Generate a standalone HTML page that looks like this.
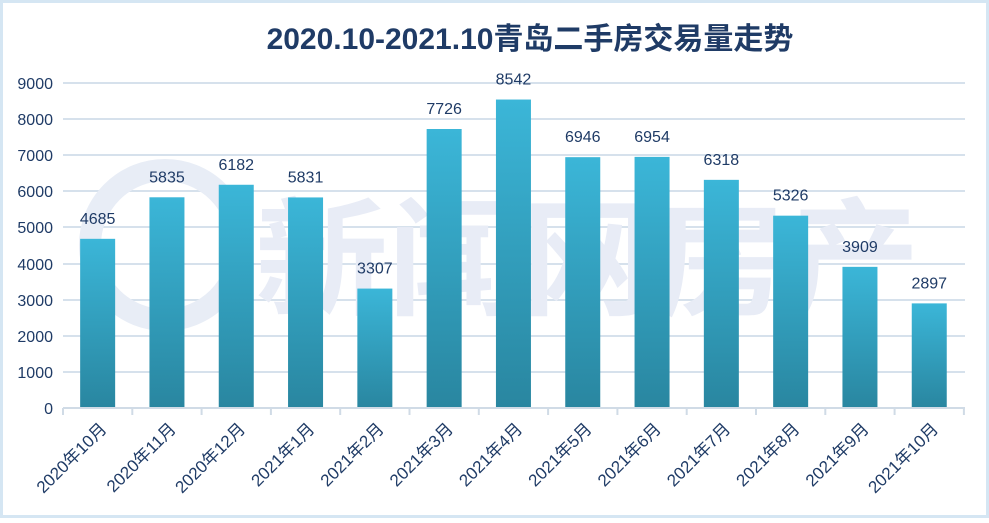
<!DOCTYPE html>
<html><head><meta charset="utf-8"><style>
html,body{margin:0;padding:0;background:#fff}
</style></head><body>
<svg width="989" height="518" xmlns="http://www.w3.org/2000/svg" font-family="'Liberation Sans','Noto Sans CJK SC',sans-serif">
<defs>
<linearGradient id="g" x1="0" y1="0" x2="0" y2="1">
<stop offset="0" stop-color="#3bb6d8"/><stop offset="1" stop-color="#2986a0"/>
</linearGradient>
</defs>
<rect x="1.5" y="1.5" width="986" height="515" fill="#fff" stroke="#d5e6f3" stroke-width="3"/>
<text x="530" y="49" text-anchor="middle" font-size="30" font-weight="bold" fill="#1f3b66">2020.10-2021.10青岛二手房交易量走势</text>
<g stroke="#d6e1ec" stroke-width="2">
<line x1="63" x2="965" y1="83" y2="83"/><line x1="63" x2="965" y1="119" y2="119"/>
<line x1="63" x2="965" y1="155" y2="155"/><line x1="63" x2="965" y1="191" y2="191"/>
<line x1="63" x2="965" y1="227" y2="227"/><line x1="63" x2="965" y1="264" y2="264"/>
<line x1="63" x2="965" y1="300" y2="300"/><line x1="63" x2="965" y1="336" y2="336"/>
<line x1="63" x2="965" y1="372" y2="372"/>
</g>
<text x="255" y="305" font-size="128" font-weight="bold" fill="#e8ecf6" textLength="665" lengthAdjust="spacingAndGlyphs">新闻网房产</text>
<circle cx="165" cy="245" r="75" fill="none" stroke="#e8edf6" stroke-width="22"/>
<g fill="#1f3b66" font-size="16" text-anchor="end">
<text x="53" y="89">9000</text><text x="53" y="125">8000</text><text x="53" y="161">7000</text>
<text x="53" y="197">6000</text><text x="53" y="233">5000</text><text x="53" y="270">4000</text>
<text x="53" y="306">3000</text><text x="53" y="342">2000</text><text x="53" y="378">1000</text>
<text x="53" y="414">0</text>
</g>
<g id="bars" fill="url(#g)"></g>
<g id="labels" fill="#1f3b66" font-size="16" text-anchor="middle"></g>
<g id="xl" fill="#1f3b66" font-size="17" text-anchor="end"></g>
<g stroke="#d0dbe6" stroke-width="2" id="ax"><line x1="63" x2="965" y1="408" y2="408"/></g>
<script>
var v=[4685,5835,6182,5831,3307,7726,8542,6946,6954,6318,5326,3909,2897];
var n=["2020年10月","2020年11月","2020年12月","2021年1月","2021年2月","2021年3月","2021年4月","2021年5月","2021年6月","2021年7月","2021年8月","2021年9月","2021年10月"];
var ns="http://www.w3.org/2000/svg",w=69.3;
function el(t,a,p,txt){var e=document.createElementNS(ns,t);for(var k in a)e.setAttribute(k,a[k]);if(txt)e.textContent=txt;document.getElementById(p).appendChild(e);}
for(var i=0;i<13;i++){var c=63+w*(i+0.5),h=v[i]*325/9000;
el("rect",{x:c-17.5,y:408-h,width:35,height:h},"bars");
el("text",{x:c,y:408-h-15},"labels",String(v[i]));
el("text",{x:c+10,y:430,transform:"rotate(-45 "+(c+10)+" 430)"},"xl",n[i]);}
for(var i=0;i<=13;i++){var x=63+w*i;el("line",{x1:x,x2:x,y1:408,y2:415},"ax");}
</script>
</svg>
</body></html>
